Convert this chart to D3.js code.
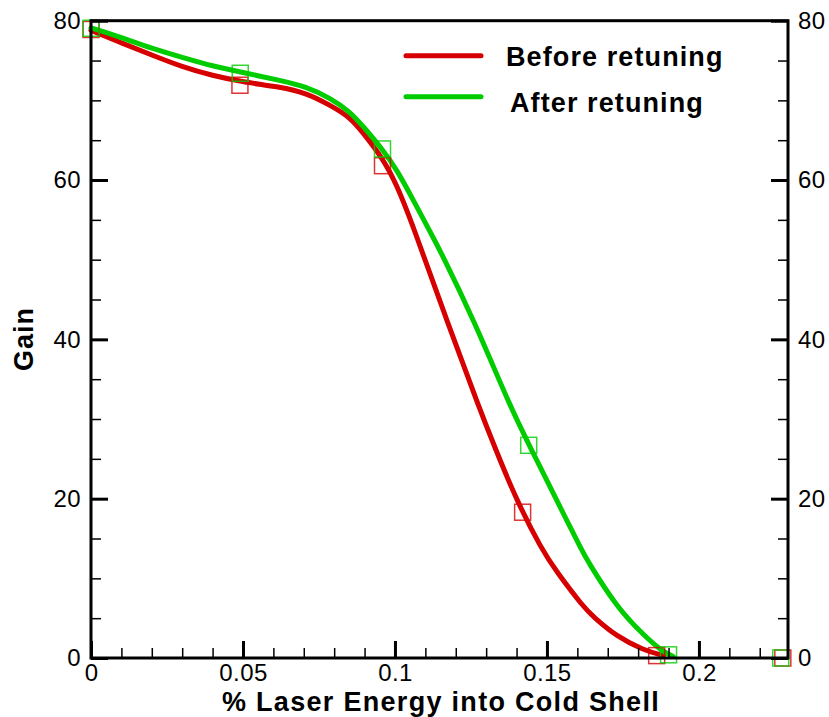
<!DOCTYPE html>
<html>
<head>
<meta charset="utf-8">
<script src="https://cdn.jsdelivr.net/npm/d3@7"></script>
<style>
  html, body { margin: 0; padding: 0; background: #fff; }
  svg { display: block; }
  .tick text { font-family: "Liberation Sans", Arial, sans-serif; font-size: 24px; letter-spacing: 0.4px; fill: #000; }
  .title { font-family: "Liberation Sans", Arial, sans-serif; font-weight: bold; fill: #000; }
</style>
</head>
<body>
<svg id="chart" width="829" height="717"></svg>
<script>
// ---- data ----
const beforeCurveX = [0, 0.01, 0.02, 0.03, 0.04, 0.05, 0.062, 0.071, 0.0786, 0.0852, 0.0896, 0.096, 0.1006, 0.106, 0.117, 0.128, 0.1332, 0.140, 0.1483, 0.1532, 0.162, 0.1652, 0.1729, 0.1817, 0.1883];
const beforeCurveY = [78.8, 77.2, 75.7, 74.2, 73.1, 72.3, 71.7, 70.9, 69.4, 67.9, 65.9, 62.7, 59.4, 54.2, 42.4, 31.1, 26.1, 19.8, 13.6, 10.8, 6.4, 5.2, 2.7, 1.0, 0.3];
const afterCurveX = [0, 0.01, 0.02, 0.03, 0.04, 0.05, 0.0622, 0.071, 0.0786, 0.0852, 0.0896, 0.096, 0.1006, 0.106, 0.1117, 0.1148, 0.126, 0.1384, 0.145, 0.1532, 0.1565, 0.1614, 0.163, 0.1729, 0.1817, 0.188, 0.1915];
const afterCurveY = [79.1, 77.9, 76.5, 75.4, 74.3, 73.5, 72.5, 71.7, 70.3, 68.6, 66.7, 63.8, 61.3, 57.5, 53.4, 51.2, 42.4, 31.1, 26.1, 19.8, 17.3, 13.6, 12.4, 6.4, 2.9, 0.8, 0.2];
const beforeMarkX = [0, 0.049, 0.0959, 0.142, 0.1861, 0.2276];
const beforeMarkY = [78.9, 71.9, 61.8, 18.3, 0.3, 0];
const afterMarkX = [0, 0.0491, 0.0959, 0.144, 0.19, 0.2269];
const afterMarkY = [79.05, 73.4, 63.9, 26.7, 0.4, 0];
const xTicks = [0, 0.05, 0.1, 0.15, 0.2];
const xTickLabels = ["0", "0.05", "0.1", "0.15", "0.2"];
const xMinor = [0.01,0.02,0.03,0.04,0.06,0.07,0.08,0.09,0.11,0.12,0.13,0.14,0.16,0.17,0.18,0.19,0.21,0.22];
const yTicks = [0, 20, 40, 60, 80];
const yMinor = [5,10,15,25,30,35,45,50,55,65,70,75];
const seriesNames = ["Before retuning", "After retuning"];
const seriesColors = ["#d60000", "#00cc00"];
const xTitle = "% Laser Energy into Cold Shell";
const yTitle = "Gain";

// ---- layout ----
const L = 91, R = 788, T = 20.7, B = 658;
const svg = d3.select("#chart");
const x = d3.scaleLinear().domain([0, 0.2293]).range([L, R]);
const y = d3.scaleLinear().domain([0, 80]).range([B, T]);

const zip = (xs, ys) => xs.map((v, i) => [v, ys[i]]);
const line = d3.line().x(d => x(d[0])).y(d => y(d[1])).curve(d3.curveBasis);

// curves
[[beforeCurveX, beforeCurveY], [afterCurveX, afterCurveY]].forEach((s, i) => {
  svg.append("path")
    .datum(zip(s[0], s[1]))
    .attr("d", line)
    .attr("fill", "none")
    .attr("stroke", seriesColors[i])
    .attr("stroke-width", 5)
    .attr("stroke-linecap", "round")
    .attr("stroke-linejoin", "round");
});

// markers
const ms = 16;
[[beforeMarkX, beforeMarkY], [afterMarkX, afterMarkY]].forEach((s, i) => {
  svg.append("g").selectAll("rect")
    .data(zip(s[0], s[1]))
    .join("rect")
    .attr("x", d => x(d[0]) - ms / 2)
    .attr("y", d => y(d[1]) - ms / 2)
    .attr("width", ms)
    .attr("height", ms)
    .attr("fill", "none")
    .attr("stroke", seriesColors[i])
    .attr("stroke-opacity", 0.8)
    .attr("stroke-width", 1.5);
});

// axes
function styleAxis(g, major) {
  g.select(".domain").remove();
  g.selectAll(".tick line").attr("stroke", "#000").attr("stroke-width", major ? 3 : 1.5);
}
const fmtX = (d, i) => xTickLabels[i];

svg.append("g").attr("transform", `translate(0,${B})`)
  .call(d3.axisBottom(x).tickValues(xTicks).tickFormat(fmtX).tickSizeInner(-17).tickSizeOuter(0).tickPadding(6))
  .call(g => styleAxis(g, true));
svg.append("g").attr("transform", `translate(0,${B})`)
  .call(d3.axisBottom(x).tickValues(xMinor).tickFormat("").tickSizeInner(-10).tickSizeOuter(0))
  .call(g => styleAxis(g, false));

svg.append("g").attr("transform", `translate(${L},0)`)
  .call(d3.axisLeft(y).tickValues(yTicks).tickFormat(d3.format("d")).tickSizeInner(-17).tickSizeOuter(0).tickPadding(10))
  .call(g => styleAxis(g, true));
svg.append("g").attr("transform", `translate(${L},0)`)
  .call(d3.axisLeft(y).tickValues(yMinor).tickFormat("").tickSizeInner(-10).tickSizeOuter(0))
  .call(g => styleAxis(g, false));

svg.append("g").attr("transform", `translate(${R},0)`)
  .call(d3.axisRight(y).tickValues(yTicks).tickFormat(d3.format("d")).tickSizeInner(-17).tickSizeOuter(0).tickPadding(10))
  .call(g => styleAxis(g, true));
svg.append("g").attr("transform", `translate(${R},0)`)
  .call(d3.axisRight(y).tickValues(yMinor).tickFormat("").tickSizeInner(-10).tickSizeOuter(0))
  .call(g => styleAxis(g, false));

// frame
svg.append("rect")
  .attr("x", L).attr("y", T).attr("width", R - L).attr("height", B - T)
  .attr("fill", "none").attr("stroke", "#000").attr("stroke-width", 3);

// titles
svg.append("text").attr("class", "title")
  .attr("x", 441).attr("y", 711)
  .attr("text-anchor", "middle").attr("font-size", 27)
  .attr("letter-spacing", 1.3)
  .text(xTitle);
svg.append("text").attr("class", "title")
  .attr("transform", "translate(33,339) rotate(-90)")
  .attr("text-anchor", "middle").attr("font-size", 27)
  .attr("letter-spacing", 1)
  .text(yTitle);

// legend
const legY = [55.7, 96.7];
const legTextX = [506, 510];
const legTextY = [66, 112];
seriesNames.forEach((n, i) => {
  svg.append("line")
    .attr("x1", 406).attr("x2", 481)
    .attr("y1", legY[i]).attr("y2", legY[i])
    .attr("stroke", seriesColors[i]).attr("stroke-width", 5)
    .attr("stroke-linecap", "round");
  svg.append("text").attr("class", "title")
    .attr("x", legTextX[i]).attr("y", legTextY[i])
    .attr("font-size", 27)
    .attr("letter-spacing", 1.1)
    .text(n);
});
</script>
</body>
</html>
